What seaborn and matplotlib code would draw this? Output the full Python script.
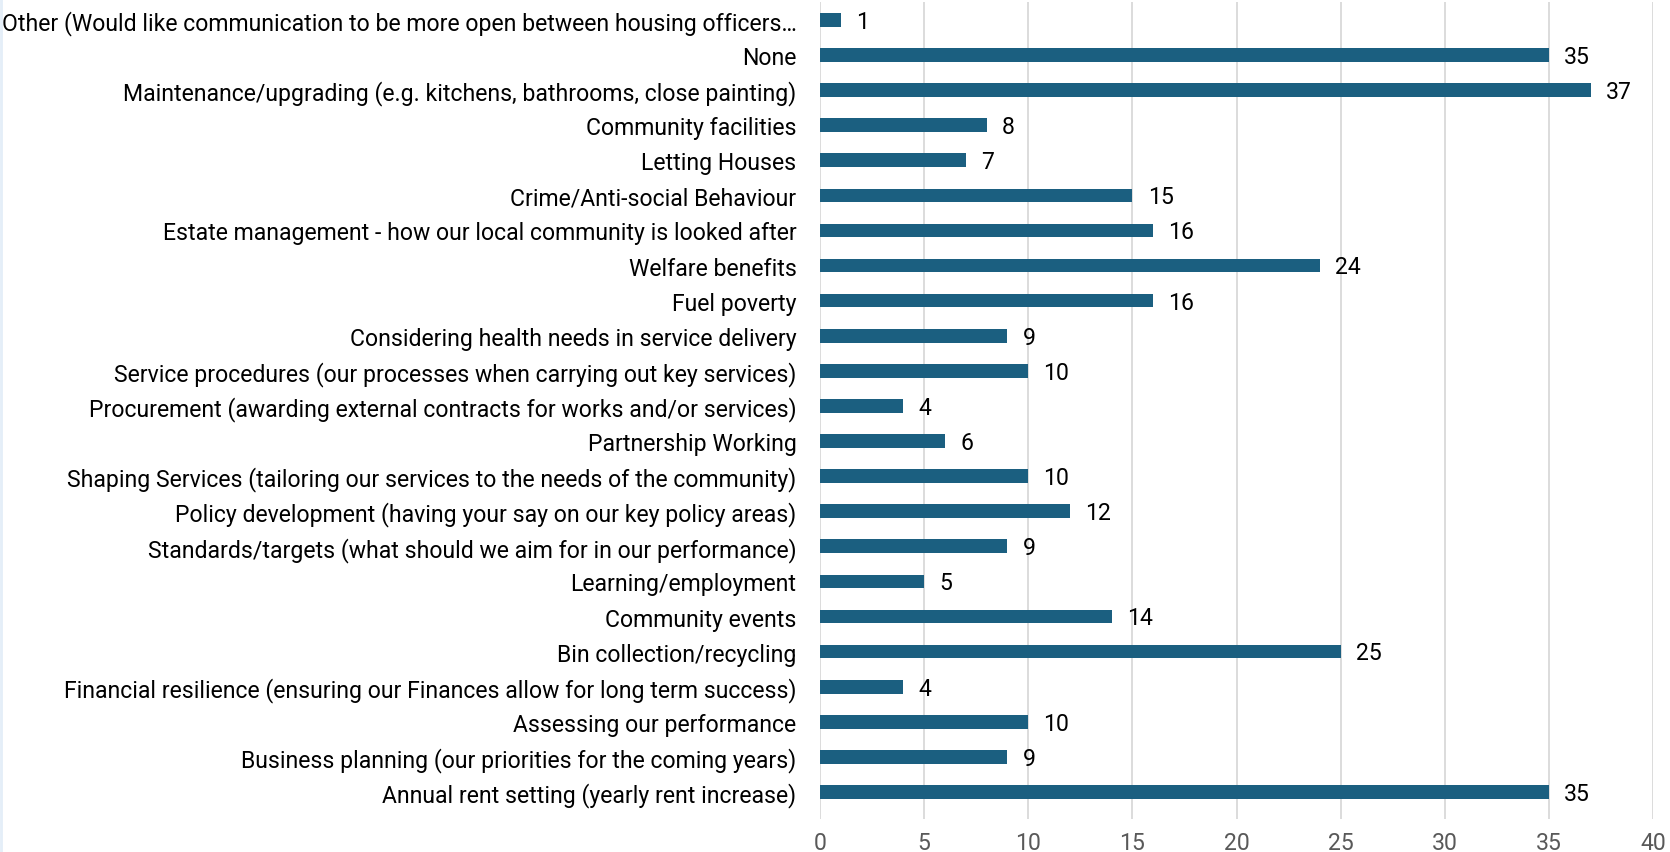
import matplotlib
matplotlib.use("Agg")
import matplotlib.pyplot as plt
from matplotlib.lines import Line2D
import seaborn as sns
import pandas as pd

categories = [
    "Other (Would like communication to be more open between housing officers…",
    "None",
    "Maintenance/upgrading (e.g. kitchens, bathrooms, close painting)",
    "Community facilities",
    "Letting Houses",
    "Crime/Anti-social Behaviour",
    "Estate management - how our local community is looked after",
    "Welfare benefits",
    "Fuel poverty",
    "Considering health needs in service delivery",
    "Service procedures (our processes when carrying out key services)",
    "Procurement (awarding external contracts for works and/or services)",
    "Partnership Working",
    "Shaping Services (tailoring our services to the needs of the community)",
    "Policy development (having your say on our key policy areas)",
    "Standards/targets (what should we aim for in our performance)",
    "Learning/employment",
    "Community events",
    "Bin collection/recycling",
    "Financial resilience (ensuring our Finances allow for long term success)",
    "Assessing our performance",
    "Business planning (our priorities for the coming years)",
    "Annual rent setting (yearly rent increase)",
]
values = [1, 35, 37, 8, 7, 15, 16, 24, 16, 9, 10, 4, 6, 10, 12, 9, 5, 14, 25, 4, 10, 9, 35]
x_ticks = [0, 5, 10, 15, 20, 25, 30, 35, 40]

df = pd.DataFrame({"category": categories, "value": values})

sns.set_theme(style="white")
plt.rcParams["font.family"] = ["Roboto", "DejaVu Sans"]

W, H = 1670, 853
fig = plt.figure(figsize=(W / 100, H / 100), dpi=100)
left, right, top, bottom = 820, 1653, 3, 820
ax = fig.add_axes([left / W, 1 - bottom / H, (right - left) / W, (bottom - top) / H])

bar_color = "#1B5F80"
sns.barplot(data=df, y="category", x="value", orient="h", color=bar_color,
            width=0.39, ax=ax, saturation=1, edgecolor="none")

ax.set_xlim(0, 40)
ax.set_ylim(22.77, -0.51)
ax.set_xticks(x_ticks)
ax.set_xticklabels([str(t) for t in x_ticks])
ax.xaxis.grid(True, color="#D9D9D9", linewidth=1.3)
ax.set_axisbelow(True)
for s in ax.spines.values():
    s.set_visible(False)
ax.set_xlabel("")
ax.set_ylabel("")
fs = 16.6
ax.tick_params(axis="y", length=0, pad=17, labelsize=fs, labelcolor="#000000")
ax.tick_params(axis="x", length=0, pad=9, labelsize=fs, labelcolor="#595959")

for i, v in enumerate(values):
    ax.annotate(str(v), xy=(v, i), xytext=(11, -1), textcoords="offset points",
                va="center", ha="left", fontsize=fs, color="#000000")

# faint border on the left edge of the image
fig.add_artist(Line2D([1 / W, 1 / W], [0, 1], transform=fig.transFigure,
                      color="#E4EEF8", linewidth=2))

fig.savefig("out.png", dpi=100)
